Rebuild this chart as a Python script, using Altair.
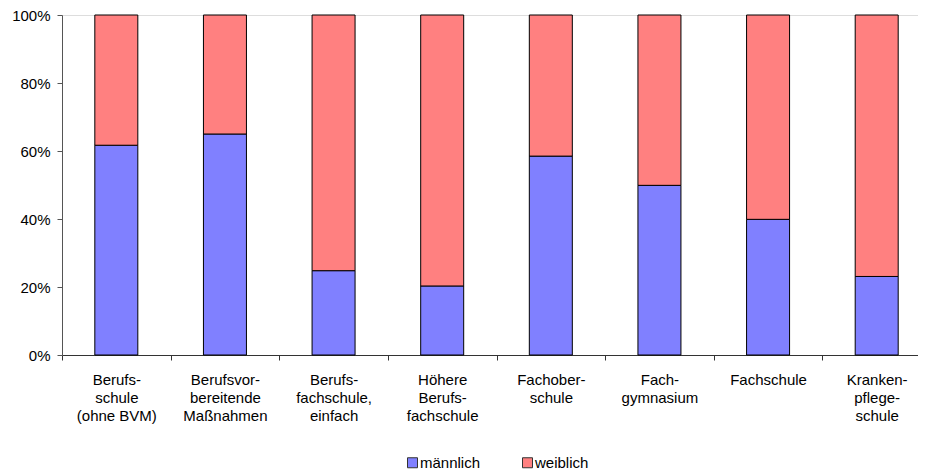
import altair as alt
import pandas as pd

categories = [
    "Berufs-\nschule\n(ohne BVM)",
    "Berufsvor-\nbereitende\nMaßnahmen",
    "Berufs-\nfachschule,\neinfach",
    "Höhere\nBerufs-\nfachschule",
    "Fachober-\nschule",
    "Fach-\ngymnasium",
    "Fachschule",
    "Kranken-\npflege-\nschule",
]
series = ["männlich", "weiblich"]
male = [61.7, 65.0, 24.8, 20.3, 58.5, 49.9, 39.9, 23.1]
female = [38.3, 35.0, 75.2, 79.7, 41.5, 50.1, 60.1, 76.9]
colors = ["#8080FF", "#FF8080"]

rows = []
for i, c in enumerate(categories):
    rows.append({"cat": c, "series": series[0], "value": male[i], "ord": 0})
    rows.append({"cat": c, "series": series[1], "value": female[i], "ord": 1})
df = pd.DataFrame(rows)

FONT = "Liberation Sans"

chart = alt.Chart(df).mark_bar(size=43, stroke="#000000", strokeWidth=1).encode(
    x=alt.X(
        "cat:N",
        sort=categories,
        title=None,
        scale=alt.Scale(paddingInner=0, paddingOuter=0, range=[0, 869]),
        axis=alt.Axis(
            labelAngle=0,
            labelExpr="split(datum.label, '\\n')",
            labelBaseline="top",
            labelLineHeight=18,
            labelPadding=12,
            tickBand="extent",
            tickSize=5,
            domainColor="#333333",
            tickColor="#333333",
            labelFontSize=15,
            labelColor="#000000",
            labelFont=FONT,
        ),
    ),
    y=alt.Y(
        "value:Q",
        stack="normalize",
        title=None,
        scale=alt.Scale(domain=[0, 1], nice=False),
        axis=alt.Axis(
            format=".0%",
            values=[0, 0.2, 0.4, 0.6, 0.8, 1.0],
            grid=False,
            tickSize=5,
            labelPadding=7,
            domainColor="#555555",
            tickColor="#555555",
            labelFontSize=15,
            labelColor="#000000",
            labelFont=FONT,
        ),
    ),
    color=alt.Color(
        "series:N",
        sort=series,
        scale=alt.Scale(domain=series, range=colors),
        legend=alt.Legend(
            title=None,
            orient="none",
            direction="horizontal",
            legendX=343,
            legendY=440,
            symbolType="square",
            symbolSize=100,
            symbolStrokeColor="#333333",
            symbolStrokeWidth=1,
            symbolOpacity=1,
            labelFontSize=15,
            labelFont=FONT,
            labelColor="#000000",
            labelOffset=0,
            columnPadding=39,
        ),
    ),
    order=alt.Order("ord:Q", sort="ascending"),
).properties(
    width=856,
    height=340,
    padding={"left": 54, "top": 7, "right": 0, "bottom": 117},
    autosize=alt.AutoSizeParams(type="none"),
).configure_view(stroke=None).configure(font=FONT)

chart.save("out.html", embed_options={"renderer": "svg", "actions": False})
